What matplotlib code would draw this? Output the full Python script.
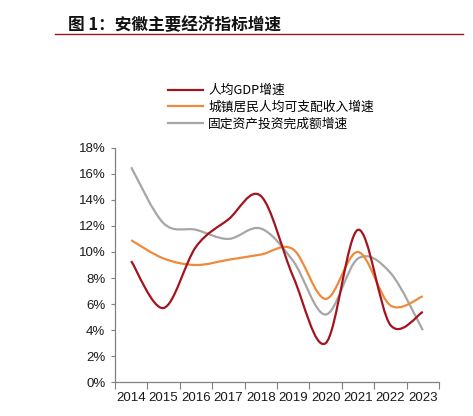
import matplotlib
matplotlib.use("Agg")
import matplotlib.pyplot as plt
from matplotlib.path import Path
from matplotlib.patches import PathPatch
from matplotlib.lines import Line2D
from matplotlib.ticker import FixedLocator, NullFormatter, FixedFormatter
import numpy as np

plt.rcParams['font.family'] = ['Liberation Sans', 'Noto Sans CJK SC', 'DejaVu Sans']

years = ['2014', '2015', '2016', '2017', '2018', '2019', '2020', '2021', '2022', '2023']
gdp_pc = [9.3, 5.7, 10.4, 12.5, 14.3, 8.1, 3.0, 11.7, 4.4, 5.4]
income = [10.9, 9.5, 9.0, 9.4, 9.8, 10.2, 6.4, 10.0, 5.9, 6.6]
invest = [16.5, 12.2, 11.7, 11.0, 11.8, 9.3, 5.2, 9.5, 8.4, 4.0]
labels = ['人均GDP增速', '城镇居民人均可支配收入增速', '固定资产投资完成额增速']
colors = ['#A3141E', '#EE8A3C', '#A6A6A6']
yticks = [0, 2, 4, 6, 8, 10, 12, 14, 16, 18]
title = '图 1：安徽主要经济指标增速'

W, H = 473, 416
fig = plt.figure(figsize=(W / 100, H / 100), dpi=100)
ax = fig.add_axes([115 / W, 1 - 382.3 / H, 324 / W, (382.3 - 147.7) / H])


def smooth_path(xs, ys, t=1 / 6):
    pts = np.column_stack([xs, ys]).astype(float)
    n = len(pts)
    verts = [pts[0]]
    codes = [Path.MOVETO]
    for i in range(n - 1):
        p0 = pts[i - 1] if i > 0 else pts[i]
        p1 = pts[i]
        p2 = pts[i + 1]
        p3 = pts[i + 2] if i + 2 < n else pts[i + 1]
        c1 = p1 + (p2 - p0) * t
        c2 = p2 - (p3 - p1) * t
        verts += [c1, c2, p2]
        codes += [Path.CURVE4] * 3
    return Path(verts, codes)


xs = np.arange(len(years))
for vals, c in zip([invest, income, gdp_pc], [colors[2], colors[1], colors[0]]):
    patch = PathPatch(smooth_path(xs, vals), fill=False, edgecolor=c, lw=1.6,
                      transform=ax.transData, capstyle='butt')
    ax.add_patch(patch)

ax.set_xlim(-0.5, len(years) - 0.5)
ax.set_ylim(0, 18)
ax.xaxis.set_major_locator(FixedLocator(np.arange(-0.5, len(years), 1.0)))
ax.xaxis.set_major_formatter(NullFormatter())
ax.xaxis.set_minor_locator(FixedLocator(xs))
ax.xaxis.set_minor_formatter(FixedFormatter(years))
ax.tick_params(axis='x', which='major', direction='out', length=5, width=0.8, color='#808080')
ax.tick_params(axis='x', which='minor', length=0, labelsize=9.5, pad=7, labelcolor='#1a1a1a')
ax.set_yticks(yticks)
ax.set_yticklabels([f'{v}%' for v in yticks])
ax.tick_params(axis='y', direction='out', length=3, width=0.8, color='#808080',
               labelsize=9.5, pad=4, labelcolor='#1a1a1a')
for s in ['top', 'right']:
    ax.spines[s].set_visible(False)
for s in ['left', 'bottom']:
    ax.spines[s].set_color('#808080')
    ax.spines[s].set_linewidth(0.9)

# title and rule
fig.text(68 / W, 1 - 25 / H, title, fontsize=12, fontweight='bold',
         family=['Noto Sans CJK SC', 'DejaVu Sans'], va='center', ha='left', color='#111111')
fig.add_artist(Line2D([55 / W, 463 / W], [1 - 34.3 / H, 1 - 34.3 / H],
                      transform=fig.transFigure, color='#A3141E', lw=1.0))

handles = [Line2D([], [], color=c, lw=1.6) for c in colors]
fig.legend(handles, labels, loc='upper left', bbox_to_anchor=(168 / W, 1 - 84 / H),
           frameon=False, borderpad=0, borderaxespad=0, handlelength=2.7,
           handletextpad=0.45, labelspacing=0.3,
           prop={'family': ['Noto Sans CJK SC', 'DejaVu Sans'], 'size': 9.2})

fig.savefig('out.png', dpi=100)
